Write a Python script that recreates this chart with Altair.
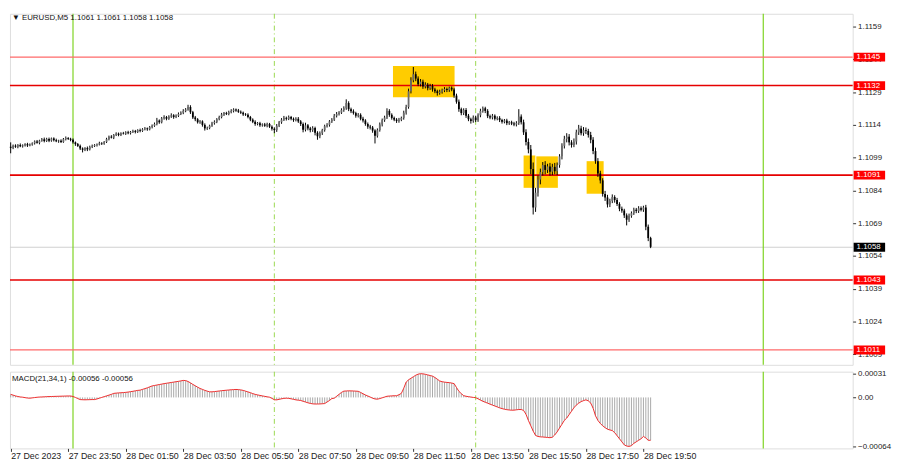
import altair as alt
import pandas as pd

# ---------------- data (prices in pips above 1.1000) ----------------
BASE = 1.1
first_open = 104.0
closes = [
    103.5, 104.5, 104, 104.8, 104.2, 104.6, 105.2, 104.6, 105, 105.6,
    106.4, 105.8, 106.8, 107.4, 106.6, 107.6, 106.8, 107.8, 107, 106.5,
    106.8, 106.2, 107.5, 108, 107.6, 107.2, 106, 105.2, 104.4, 103.2,
    102.6, 103.4, 102.8, 104, 104.4, 104.8, 105, 105.6, 105.4, 106.2,
    107.5, 108.6, 108.2, 109.4, 110, 109.4, 110.2, 110, 110.6, 110.2,
    110.8, 111.2, 110.8, 111.6, 111.2, 112, 112.4, 112, 113, 113.6,
    114.4, 116, 115.2, 117, 117.6, 116.8, 117.8, 118.4, 117.6, 118.2,
    119, 119.6, 120.4, 121, 122.2, 119.8, 117.4, 116.6, 115.2, 115.6,
    114, 112.4, 112.6, 113.6, 114.8, 115.4, 116.6, 117.6, 118.8, 119.4,
    119, 119.8, 120.4, 121, 120.6, 120, 119.6, 118.8, 118.6, 117.6,
    116.4, 115.4, 114.4, 114.8, 113.8, 114.2, 113.6, 114.4, 113.2, 112.2,
    111.6, 113.6, 115.2, 116.4, 117.2, 116.8, 117.6, 116.8, 116.2, 116.8,
    115.6, 114.4, 111.8, 113.8, 112.4, 111.6, 112.6, 110.4, 108.8, 110.2,
    111.6, 113.4, 114, 115.6, 116.4, 118.2, 119, 119.6, 120.8, 121.6,
    124, 121.2, 120.2, 119.4, 118.2, 118.6, 116.8, 116, 114.4, 113.2,
    112.8, 111.4, 109, 111.6, 114.2, 116.2, 117.4, 120.4, 118.6, 117.2,
    116.4, 115.8, 116.4, 117.2, 119.6, 122.2, 129.4, 134.4, 137.2, 135.2,
    132.6, 133.8, 131.6, 132.4, 130.8, 131.8, 130.2, 129.4, 128.6, 129.2,
    129.8, 130.4, 130, 131, 130.2, 127.4, 124.6, 121.2, 119.4, 120.8,
    118.2, 116.6, 115.8, 117.4, 116.2, 118.4, 120.4, 121.6, 120.4, 118,
    117.4, 118.2, 116.8, 117.2, 116.2, 115.4, 116, 114.8, 115.2, 114.6,
    114.2, 114.8, 117.8, 115.2, 110.6, 106.2, 102.8, 93.8, 76.2, 83,
    89, 92.4, 95.6, 93.4, 95, 92.6, 94.8, 92.8, 95.6, 99.6,
    104.4, 107.6, 108.6, 106, 104.8, 106.4, 110.6, 112.4, 110.2, 111.6,
    111.2, 109.4, 107.2, 102, 97.4, 91.8, 88.6, 82.4, 80.8, 77.6,
    79.2, 81, 79.6, 77.8, 75.6, 74.8, 72.6, 70.6, 72.4, 73.6,
    75.2, 74.6, 75.8, 75.2, 76.2, 67.4, 62.2, 58.2,
]
upper_wicks = [
    2.0, 0.5, 0.6, 0.4, 0.7, 0.5, 0.4, 0.6, 0.5, 0.4,
    0.5, 0.7, 0.4, 0.6, 0.8, 0.5, 0.6, 0.4, 0.5, 0.7,
    0.4, 0.6, 0.5, 0.7, 0.4, 0.5, 0.6, 0.4, 0.5, 0.6,
    0.5, 0.4, 0.7, 0.5, 0.6, 0.4, 0.5, 0.7, 0.5, 0.4,
    0.6, 0.5, 0.7, 0.4, 0.6, 0.5, 0.4, 0.6, 0.5, 0.7,
    0.4, 0.6, 0.5, 0.4, 0.7, 0.5, 0.6, 0.4, 0.5, 0.6,
    0.7, 1.2, 0.5, 0.6, 0.8, 0.5, 0.6, 0.9, 0.5, 0.6,
    0.7, 0.6, 0.8, 0.7, 1.0, 0.8, 0.6, 0.7, 0.5, 0.6,
    0.5, 0.7, 0.6, 0.5, 0.6, 0.7, 0.5, 0.6, 0.7, 0.5,
    0.6, 0.7, 0.8, 0.6, 0.5, 0.7, 0.6, 0.5, 0.6, 0.7,
    0.5, 0.6, 0.7, 0.5, 0.6, 0.5, 0.7, 0.6, 0.5, 0.6,
    0.7, 0.8, 0.6, 0.7, 0.9, 0.6, 0.7, 0.5, 0.6, 0.7,
    0.8, 0.6, 0.7, 1.2, 0.6, 0.7, 0.8, 0.6, 0.7, 0.8,
    0.6, 0.7, 0.8, 0.6, 0.7, 0.8, 0.9, 0.7, 0.8, 0.9,
    1.7, 0.8, 0.7, 0.9, 0.6, 0.8, 0.7, 0.9, 0.6, 0.7,
    0.8, 0.7, 0.6, 0.8, 0.9, 0.7, 0.8, 1.2, 0.8, 0.7,
    0.6, 0.7, 0.8, 0.6, 0.9, 1.0, 1.2, 1.4, 3.3, 1.2,
    1.0, 1.2, 0.9, 1.1, 0.8, 1.0, 0.9, 0.8, 0.7, 0.9,
    0.8, 0.9, 0.7, 0.5, 0.6, 0.8, 0.9, 1.0, 0.7, 0.8,
    0.9, 0.8, 0.7, 0.9, 0.8, 0.9, 1.0, 0.8, 0.7, 0.8,
    0.7, 0.8, 0.6, 0.7, 0.8, 0.6, 0.7, 0.8, 0.6, 0.7,
    0.8, 0.9, 3.4, 1.0, 1.2, 1.4, 1.6, 2.0, 3.0, 2.2,
    1.8, 1.6, 1.4, 1.8, 1.2, 1.6, 1.4, 1.8, 1.2, 1.0,
    1.2, 1.4, 1.6, 1.2, 1.0, 1.4, 1.2, 1.6, 1.2, 1.4,
    1.2, 1.0, 1.4, 1.2, 1.6, 1.4, 1.2, 1.0, 1.4, 1.2,
    1.0, 1.2, 0.8, 1.0, 0.8, 1.0, 0.8, 0.9, 1.0, 0.8,
    0.9, 0.8, 1.0, 0.9, 0.8, 1.2, 1.0, 0.6,
]
lower_wicks = [
    2.5, 0.6, 0.5, 0.7, 0.4, 0.6, 0.5, 0.7, 0.4, 0.5,
    0.6, 0.4, 0.7, 0.5, 0.6, 0.4, 0.7, 0.5, 0.6, 0.4,
    0.7, 0.5, 0.4, 0.6, 0.5, 0.7, 0.6, 0.8, 0.5, 0.7,
    1.2, 0.6, 0.8, 0.5, 0.6, 0.5, 0.7, 0.4, 0.6, 0.5,
    0.5, 0.6, 0.4, 0.7, 0.5, 0.6, 0.5, 0.4, 0.6, 0.5,
    0.6, 0.5, 0.7, 0.5, 0.6, 0.4, 0.5, 0.7, 0.5, 0.6,
    0.5, 0.6, 0.7, 0.5, 0.6, 0.7, 0.5, 0.6, 0.8, 0.5,
    0.6, 0.5, 0.7, 0.6, 0.5, 0.8, 0.7, 0.9, 0.6, 0.7,
    0.8, 1.0, 0.7, 0.6, 0.5, 0.7, 0.6, 0.5, 0.6, 0.7,
    0.5, 0.6, 0.5, 0.7, 0.6, 0.5, 0.6, 0.7, 0.5, 0.6,
    0.7, 0.6, 0.8, 0.6, 0.7, 0.6, 0.5, 0.7, 0.6, 0.8,
    1.4, 0.8, 0.6, 0.7, 0.6, 0.8, 0.6, 0.7, 0.8, 0.6,
    0.7, 0.9, 1.2, 0.8, 0.9, 1.0, 0.8, 1.2, 1.6, 0.9,
    0.8, 0.7, 0.6, 0.8, 0.7, 0.6, 0.8, 0.7, 0.6, 0.8,
    0.7, 0.9, 0.8, 0.7, 0.9, 0.8, 0.7, 0.9, 0.8, 1.0,
    0.9, 1.0, 3.5, 0.8, 0.7, 0.9, 0.8, 0.7, 0.9, 0.8,
    0.7, 0.9, 0.8, 0.7, 0.8, 0.9, 0.8, 1.0, 0.9, 1.2,
    0.9, 1.0, 1.1, 0.9, 1.0, 0.8, 1.0, 0.9, 1.2, 0.8,
    0.9, 0.8, 1.0, 0.9, 0.8, 1.0, 0.9, 1.2, 1.0, 0.9,
    1.0, 0.9, 1.2, 0.8, 0.9, 0.8, 0.9, 0.8, 1.0, 0.9,
    0.8, 0.9, 0.8, 0.7, 0.9, 0.8, 0.7, 0.9, 0.8, 0.7,
    0.8, 0.9, 0.8, 1.0, 1.2, 1.6, 1.8, 2.4, 3.2, 2.0,
    1.8, 2.2, 1.6, 2.0, 1.4, 1.8, 1.6, 1.4, 1.8, 1.2,
    1.4, 1.2, 1.6, 1.4, 1.2, 1.0, 1.4, 1.2, 1.0, 1.2,
    1.4, 1.2, 1.6, 1.4, 1.2, 1.6, 1.4, 1.2, 1.6, 1.4,
    1.2, 1.0, 1.2, 0.9, 1.1, 1.0, 1.2, 2.6, 1.0, 0.9,
    0.8, 1.0, 0.9, 0.8, 1.0, 1.6, 1.4, 0.6,
]
# MACD(21,34,1) in units of 0.00001
macd = [
    4, 3, 2, 1.2, 0.6, 0.3, -0.3, -0.8, -1, -0.6,
    -0.2, 0.2, 0.5, 0.6, 0.8, 1, 1.1, 1.2, 1.3, 1.4,
    1.5, 1.6, 1.7, 1.8, 1.9, 1.9, 1.2, 0, -1.5, -2.8,
    -3, -3.1, -3, -2.9, -2.8, -2.8, -2, -1, 0, 1,
    2, 3, 4, 5.3, 5.6, 5.9, 6.1, 6.3, 6.6, 7,
    7.5, 8, 8.6, 9.2, 9.5, 10.5, 11.5, 12.5, 13.8, 15,
    15.6, 16.2, 16.8, 17.4, 18, 18.5, 19, 19.5, 20, 20.5,
    21, 21.6, 22.2, 22, 20.8, 19, 17, 15.2, 13.4, 11.7,
    10.5, 9.2, 8.2, 7.3, 7.3, 7.6, 8, 8.4, 8.8, 9.1,
    9.4, 9.7, 10, 10.2, 10.4, 10.2, 9.8, 9.2, 8.2, 7.2,
    6.2, 5, 4, 3.3, 2.6, 2, 1.4, 0.8, 0.3, -1.2,
    -3, -3.2, -2.5, -1.8, -1.2, -1, -1.2, -1.8, -2.5, -3.2,
    -3.6, -4, -5, -6, -7, -7.8, -8.4, -8.6, -8.6, -8.5,
    -8.3, -8, -6, -4, -1.5, -1, 1.5, 4, 6.5, 8.2,
    8.4, 8.6, 8.5, 8.4, 8.2, 8, 6.5, 4.8, 3.2, 1.9,
    0.5, -1, -2, -2.3, -1.5, -0.5, 0.5, 1.5, 1.8, 2,
    2.2, 2.2, 3.5, 5.3, 12, 20, 23, 25, 27, 29,
    30.4, 31, 30.8, 30.2, 29.4, 28.6, 27.8, 26, 23.8, 21.5,
    20.5, 20, 19.6, 19.3, 18.8, 18, 13, 8, 5, 2.3,
    1.5, 1, 0.5, 0, -0.3, -1.8, -3.5, -5, -6.3, -7.5,
    -8.8, -10, -11.2, -12.4, -13.6, -14.6, -15.4, -16, -16.4, -16.7,
    -16.6, -16.2, -15.8, -15.8, -17, -22, -30, -37, -44, -49.7,
    -51, -51.5, -51.7, -52, -52.3, -52.6, -52, -49, -45, -40,
    -35, -30, -27, -22.5, -18, -13.5, -10, -7.5, -5.5, -4.2,
    -3.2, -4.5, -7.3, -14, -24, -30, -34, -37, -39.5, -41.5,
    -42.5, -43.3, -46, -50, -54, -58, -62, -63.5, -64, -63,
    -60, -58, -56, -54, -51, -53, -56, -56,
]
n = len(closes)
assert len(upper_wicks) == n and len(lower_wicks) == n and len(macd) == n

first_bar = "2023-12-27 21:50"
bar_minutes = 5

levels = [145, 132, 91, 43, 11]
level_colors = ["#ff6a6a", "#e60000", "#e60000", "#e60000", "#ff6a6a"]
level_widths = [1.2, 1.6, 1.6, 1.6, 1.2]
last_price = 58

box_start = ["2023-12-28 11:07:30", "2023-12-28 15:40", "2023-12-28 16:06:30", "2023-12-28 17:51:30"]
box_end = ["2023-12-28 13:16", "2023-12-28 16:04:30", "2023-12-28 16:51:30", "2023-12-28 18:27"]
box_top = [141, 100, 99.6, 97.4]
box_bottom = [126.6, 85.2, 85.2, 82.5]

solid_vlines = ["2023-12-28 00:00", "2023-12-29 00:00"]
dashed_vlines = ["2023-12-28 07:00", "2023-12-28 14:00"]

price_ticks = [159, 144, 129, 114, 99, 84, 69, 54, 39, 24, 9]
macd_ticks = [31, 0, -64]
time_ticks = ["2023-12-27 21:50", "2023-12-27 23:50", "2023-12-28 01:50", "2023-12-28 03:50",
              "2023-12-28 05:50", "2023-12-28 07:50", "2023-12-28 09:50", "2023-12-28 11:50",
              "2023-12-28 13:50", "2023-12-28 15:50", "2023-12-28 17:50", "2023-12-28 19:50"]
time_labels = ["27 Dec 2023", "27 Dec 23:50", "28 Dec 01:50", "28 Dec 03:50", "28 Dec 05:50",
               "28 Dec 07:50", "28 Dec 09:50", "28 Dec 11:50", "28 Dec 13:50", "28 Dec 15:50",
               "28 Dec 17:50", "28 Dec 19:50"]

header = "\u25BC EURUSD,M5  1.1061 1.1061 1.1058 1.1058"
macd_title = "MACD(21,34,1) -0.00056 -0.00056"


def ms(s):
    return int(pd.Timestamp(s, tz="UTC").timestamp() * 1000)


t0 = ms(first_bar)
step = bar_minutes * 60 * 1000
times = [t0 + i * step for i in range(n)]
opens = [first_open] + closes[:-1]

candles = pd.DataFrame({
    "t": times, "o": opens, "c": closes,
    "h": [max(o, c) + u for o, c, u in zip(opens, closes, upper_wicks)],
    "l": [min(o, c) - d for o, c, d in zip(opens, closes, lower_wicks)],
})
candles["dir"] = ["up" if c >= o else "down" for o, c in zip(opens, closes)]
macd_df = pd.DataFrame({"t": times, "m": macd, "zero": [0] * n})

x_domain = [t0 - step * 0.3, t0 + step * 351.3]
W, H1, H2 = 857, 357, 78
FONT = "Liberation Sans"

xs = alt.Scale(type="utc", domain=x_domain, nice=False)
ys = alt.Scale(domain=[4.2, 164.85], nice=False, zero=False)
ms_scale = alt.Scale(domain=[-66.6, 33.6], nice=False, zero=False)

vl_df = pd.DataFrame({"t": [ms(s) for s in solid_vlines + dashed_vlines],
                      "kind": ["solid"] * len(solid_vlines) + ["dash"] * len(dashed_vlines)})
lvl_df = pd.DataFrame({"p": levels, "col": level_colors, "w": level_widths,
                       "lab": ["%.4f" % (BASE + p / 10000) for p in levels]})
box_df = pd.DataFrame({"t1": [ms(s) for s in box_start], "t2": [ms(s) for s in box_end],
                       "top": box_top, "bot": box_bottom})
last_df = pd.DataFrame({"p": [last_price], "lab": ["%.4f" % (BASE + last_price / 10000)]})


def vlines(xaxis):
    solid = alt.Chart(vl_df).transform_filter("datum.kind == 'solid'").mark_rule(
        color="#7ed321", strokeWidth=1.2).encode(x=alt.X("t:T", scale=xs, axis=xaxis))
    dash = alt.Chart(vl_df).transform_filter("datum.kind == 'dash'").mark_rule(
        color="#9ad850", strokeWidth=1, strokeDash=[5, 3, 1, 3]).encode(x=alt.X("t:T", scale=xs, axis=xaxis))
    return [solid, dash]


price_axis = alt.Axis(orient="right", values=price_ticks,
                      labelExpr="format(1.1 + datum.value / 10000, '.4f')",
                      tickSize=3, tickColor="#333", labelFontSize=8, labelFont=FONT,
                      labelColor="#222", labelPadding=2, labelOverlap=False, labelBound=False,
                      grid=False, domain=False, title=None)
X = alt.X("t:T", scale=xs, axis=None)

boxes = alt.Chart(box_df).mark_rect(color="#ffcc00", opacity=1).encode(
    x=alt.X("t1:T", scale=xs, axis=None), x2="t2:T",
    y=alt.Y("top:Q", scale=ys, axis=price_axis), y2="bot:Q")
price_line = alt.Chart(last_df).mark_rule(color="#cfcfcf", strokeWidth=1).encode(
    y=alt.Y("p:Q", scale=ys, axis=price_axis))
level_lines = alt.Chart(lvl_df).mark_rule().encode(
    y=alt.Y("p:Q", scale=ys, axis=price_axis), color=alt.Color("col:N", scale=None),
    strokeWidth=alt.StrokeWidth("w:Q", scale=None))
wicks = alt.Chart(candles).mark_rule(color="#000", strokeWidth=1).encode(
    x=X, y=alt.Y("l:Q", scale=ys, axis=price_axis), y2="h:Q")
bodies = alt.Chart(candles).mark_rule(strokeWidth=1.8).encode(
    x=X, y=alt.Y("o:Q", scale=ys, axis=price_axis), y2="c:Q",
    color=alt.Color("dir:N", scale=alt.Scale(domain=["up", "down"], range=["#6a6a6a", "#000000"]), legend=None))
lvl_boxes = alt.Chart(lvl_df).mark_rect(yOffset=-4.5, y2Offset=4.5, clip=False).encode(
    x=alt.value(W + 1), x2=alt.value(W + 33), y=alt.Y("p:Q", scale=ys, axis=price_axis), y2="p:Q",
    color=alt.value("#ff0000"))
lvl_text = alt.Chart(lvl_df).mark_text(align="left", baseline="middle", fontSize=8, font=FONT,
                                       color="white", clip=False).encode(
    x=alt.value(W + 4), y=alt.Y("p:Q", scale=ys, axis=price_axis), text="lab:N")
last_box = alt.Chart(last_df).mark_rect(yOffset=-4.5, y2Offset=4.5, color="#000").encode(
    x=alt.value(W + 1), x2=alt.value(W + 33), y=alt.Y("p:Q", scale=ys, axis=price_axis), y2="p:Q")
last_text = alt.Chart(last_df).mark_text(align="left", baseline="middle", fontSize=8, font=FONT,
                                         color="white").encode(
    x=alt.value(W + 4), y=alt.Y("p:Q", scale=ys, axis=price_axis), text="lab:N")
head = alt.Chart(pd.DataFrame({"s": [header]})).mark_text(
    align="left", baseline="middle", fontSize=8, font=FONT, color="#111").encode(
    x=alt.value(2), y=alt.value(4), text="s:N")

price_panel = alt.layer(
    boxes, price_line, *vlines(None), level_lines, wicks, bodies,
    lvl_boxes, lvl_text, last_box, last_text, head
).properties(width=W, height=H1)

# x axis labels
tick_ms = [ms(s) for s in time_ticks]
expr = "''"
for v, lab in reversed(list(zip(tick_ms, time_labels))):
    expr = "time(datum.value) == %d ? '%s' : (%s)" % (v, lab, expr)

x_axis = alt.Axis(orient="bottom", values=tick_ms, labelExpr=expr, labelAlign="left",
                  labelBaseline="top", labelFontSize=9, labelFont=FONT, labelColor="#222",
                  tickSize=3, tickColor="#333", labelPadding=0, labelOverlap=False,
                  labelFlush=False, labelBound=False, grid=False, domain=False, title=None)
macd_axis = alt.Axis(orient="right", values=macd_ticks,
                     labelExpr="datum.value == 0 ? '0.00' : format(datum.value / 100000, '.5f')",
                     tickSize=3, tickColor="#333", labelFontSize=8, labelFont=FONT,
                     labelColor="#222", labelPadding=2, labelOverlap=False, labelBound=False,
                     grid=False, domain=False, title=None)

hist = alt.Chart(macd_df).mark_rule(color="#a8a8a8", strokeWidth=1).encode(
    x=alt.X("t:T", scale=xs, axis=x_axis),
    y=alt.Y("zero:Q", scale=ms_scale, axis=macd_axis), y2="m:Q")
sig = alt.Chart(macd_df).mark_line(color="#ee2b2b", strokeWidth=1).encode(
    x=alt.X("t:T", scale=xs, axis=x_axis), y=alt.Y("m:Q", scale=ms_scale, axis=macd_axis))
macd_head = alt.Chart(pd.DataFrame({"s": [macd_title]})).mark_text(
    align="left", baseline="middle", fontSize=8, font=FONT, color="#111").encode(
    x=alt.value(2), y=alt.value(7), text="s:N")

macd_panel = alt.layer(hist, *vlines(x_axis), sig, macd_head).properties(width=W, height=H2)

chart = alt.vconcat(price_panel, macd_panel, spacing=2).properties(
    padding={"left": 0, "top": 0, "right": 0, "bottom": 0}
).configure_view(stroke="#4a4a4a", strokeWidth=1).configure(background="white")

chart.save("out.html", embed_options={"renderer": "svg", "actions": False})
